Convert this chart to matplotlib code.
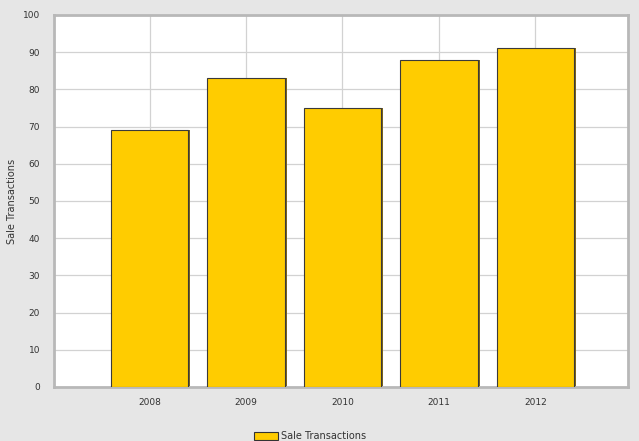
import matplotlib.pyplot as plt
import numpy as np
from matplotlib.patches import Patch

years = ["2008", "2009", "2010", "2011", "2012"]
sales = [69, 83, 75, 88, 91]
y_ticks = list(range(0, 101, 10))

bar_color = "#ffcc00"
bg = "#e6e6e6"

fig = plt.figure(figsize=(6.39, 4.41), dpi=100, facecolor=bg)
ax = fig.add_axes([54 / 639, 1 - 387 / 441, 574 / 639, 372 / 441])
ax.set_facecolor("white")

x = np.arange(len(years))

# shadow on the right of each bar
ax.bar(x + 0.022, sales, width=0.8, color="#7a6420", edgecolor="none", zorder=2)
ax.bar(x, sales, width=0.8, color=bar_color, edgecolor="#3a3a3a", linewidth=0.8, zorder=3)

ax.set_xlim(-0.99, 4.96)
ax.set_ylim(0, 100)
ax.set_xticks(x)
ax.set_xticklabels(years)
ax.set_yticks(y_ticks)

ax.grid(True, color="#d2d2d2", linewidth=0.9, zorder=0)
ax.set_axisbelow(True)

for s in ax.spines.values():
    s.set_color("#b8b8b8")
    s.set_linewidth(2)

ax.tick_params(axis="both", length=0, labelsize=6.5, labelcolor="#333333")
ax.tick_params(axis="x", pad=8)
ax.tick_params(axis="y", pad=10)

ax.set_ylabel("Sale Transactions", fontsize=7, color="#333333", va="center")
ax.yaxis.set_label_coords(-0.073, 0.5)

fig.legend(handles=[Patch(facecolor=bar_color, edgecolor="#333333", linewidth=0.8,
                          label="Sale Transactions")],
           loc="center", bbox_to_anchor=(310 / 639, 1 - 436 / 441),
           frameon=False, fontsize=7, handlelength=2.4, handleheight=0.9,
           handletextpad=0.3, labelcolor="#333333")

fig.savefig("out.png", dpi=100, facecolor=bg)
